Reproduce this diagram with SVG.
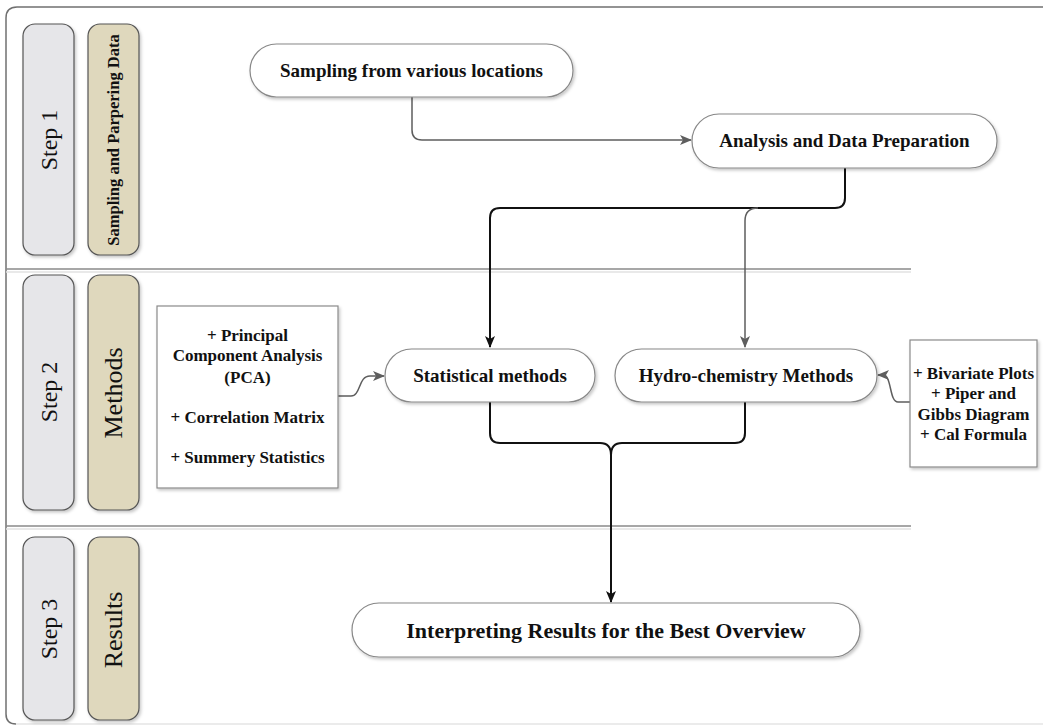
<svg xmlns="http://www.w3.org/2000/svg" width="1043" height="726" viewBox="0 0 1043 726">
<style>
.frame{fill:none;stroke:#707070;stroke-width:1.5}
.div{stroke:#8a8a8a;stroke-width:1.3}
.divs{stroke:#e2e2e2;stroke-width:1.5}
.step{fill:#e6e6e9;stroke:#555;stroke-width:1.2}
.lab{fill:#dfd8bd;stroke:#555;stroke-width:1.2}
.pill{fill:#fff;stroke:#888;stroke-width:1.2}
.box{fill:#fff;stroke:#8a8a8a;stroke-width:1.2}
.t{font-family:"Liberation Serif","Times New Roman",serif;fill:#111;text-anchor:middle}
.b{font-weight:bold}
.gray{fill:none;stroke:#5e5e5e;stroke-width:1.5}
.blk{fill:none;stroke:#111;stroke-width:2}
</style>
<defs>
<filter id="sh" x="-10%" y="-10%" width="120%" height="130%">
<feDropShadow dx="1.5" dy="2" stdDeviation="1.5" flood-color="#000" flood-opacity="0.22"/>
</filter>
<marker id="ag" markerWidth="12" markerHeight="10" refX="11" refY="5" orient="auto" markerUnits="userSpaceOnUse">
<path d="M0,0 L12,5 L0,10 L3,5 z" fill="#5e5e5e"/>
</marker>
<marker id="ab" markerWidth="12" markerHeight="10" refX="11" refY="5" orient="auto" markerUnits="userSpaceOnUse">
<path d="M0,0 L12,5 L0,10 L3,5 z" fill="#111"/>
</marker>
</defs>
<rect width="1043" height="726" fill="#fff"/>
<g id="frame">
<path class="frame" d="M1043,7 H17 Q6,7 6,18 V714 Q6,724 16,724"/>
<line x1="16" y1="724" x2="1043" y2="724" stroke="#d8d8d8" stroke-width="1.2"/>
<line class="div" x1="6" y1="269" x2="911" y2="269"/>
<line class="divs" x1="6" y1="272" x2="911" y2="272"/>
<line class="div" x1="6" y1="526" x2="911" y2="526"/>
<line class="divs" x1="6" y1="529" x2="911" y2="529"/>
</g>
<g id="step1">
<rect class="step" x="23" y="24" width="51" height="231" rx="12" filter="url(#sh)"/>
<text class="t" font-size="24" transform="translate(57,140) rotate(-90)">Step 1</text>
</g>
<g id="lane1">
<rect class="lab" x="88" y="24" width="51" height="231" rx="12" filter="url(#sh)"/>
<text class="t b" font-size="16.5" transform="translate(119,140) rotate(-90)">Sampling and Parpering Data</text>
</g>
<g id="step2">
<rect class="step" x="23" y="275" width="51" height="235" rx="12" filter="url(#sh)"/>
<text class="t" font-size="24" transform="translate(57,392) rotate(-90)">Step 2</text>
</g>
<g id="lane2">
<rect class="lab" x="88" y="275" width="51" height="235" rx="12" filter="url(#sh)"/>
<text class="t" font-size="26" transform="translate(122,393) rotate(-90)">Methods</text>
</g>
<g id="step3">
<rect class="step" x="23" y="537" width="51" height="183" rx="12" filter="url(#sh)"/>
<text class="t" font-size="24" transform="translate(57,629) rotate(-90)">Step 3</text>
</g>
<g id="lane3">
<rect class="lab" x="88" y="537" width="51" height="183" rx="12" filter="url(#sh)"/>
<text class="t" font-size="26" transform="translate(122,630) rotate(-90)">Results</text>
</g>
<g id="connectors">
<path class="gray" d="M412,97 V130 Q412,140 422,140 H691" marker-end="url(#ag)"/>
<path class="blk" d="M845,168 V198 Q845,208 835,208 H500 Q490,208 490,218 V347" marker-end="url(#ab)"/>
<path class="gray" d="M758,208 Q745,208 745,221 V347" marker-end="url(#ag)"/>
<path class="blk" d="M490,402 V433 Q490,443 500,443 H600 Q611,443 611,455 V602" marker-end="url(#ab)"/>
<path class="blk" d="M745,402 V433 Q745,443 735,443 H622 Q611,443 611,455"/>
<path class="gray" d="M338,396 H351 C361,396 358,376 370,376 H384" marker-end="url(#ag)"/>
<path class="gray" d="M910,402 H898 C889,402 892,375 883,375 H878" marker-end="url(#ag)"/>
</g>
<g id="sampling">
<rect class="pill" x="250" y="44" width="323" height="53" rx="26.5" filter="url(#sh)"/>
<text class="t b" font-size="19" x="411.5" y="77">Sampling from various locations</text>
</g>
<g id="analysis">
<rect class="pill" x="692" y="114" width="305" height="54" rx="27" filter="url(#sh)"/>
<text class="t b" font-size="19" x="844.5" y="147">Analysis and Data Preparation</text>
</g>
<g id="statistical">
<rect class="pill" x="385" y="349" width="210" height="53" rx="26.5" filter="url(#sh)"/>
<text class="t b" font-size="19" x="490" y="382">Statistical methods</text>
</g>
<g id="hydro">
<rect class="pill" x="615" y="349" width="262" height="53" rx="26.5" filter="url(#sh)"/>
<text class="t b" font-size="19" x="746" y="382">Hydro-chemistry Methods</text>
</g>
<g id="stat-list">
<rect class="box" x="157" y="306" width="181" height="182" filter="url(#sh)"/>
<text class="t b" font-size="17" x="247.5" y="341">+ Principal</text>
<text class="t b" font-size="17" x="247.5" y="361">Component Analysis</text>
<text class="t b" font-size="17" x="247.5" y="383">(PCA)</text>
<text class="t b" font-size="17" x="247.5" y="423">+ Correlation Matrix</text>
<text class="t b" font-size="17" x="247.5" y="463">+ Summery Statistics</text>
</g>
<g id="hydro-list">
<rect class="box" x="910" y="340" width="127" height="127" filter="url(#sh)"/>
<text class="t b" font-size="17" x="973.5" y="379">+ Bivariate Plots</text>
<text class="t b" font-size="17" x="973.5" y="399">+ Piper and</text>
<text class="t b" font-size="17" x="973.5" y="420">Gibbs Diagram</text>
<text class="t b" font-size="17" x="973.5" y="440">+ Cal Formula</text>
</g>
<g id="interpreting">
<rect class="pill" x="352" y="603" width="508" height="54" rx="27" filter="url(#sh)"/>
<text class="t b" font-size="22" x="606" y="638">Interpreting Results for the Best Overview</text>
</g>
</svg>
